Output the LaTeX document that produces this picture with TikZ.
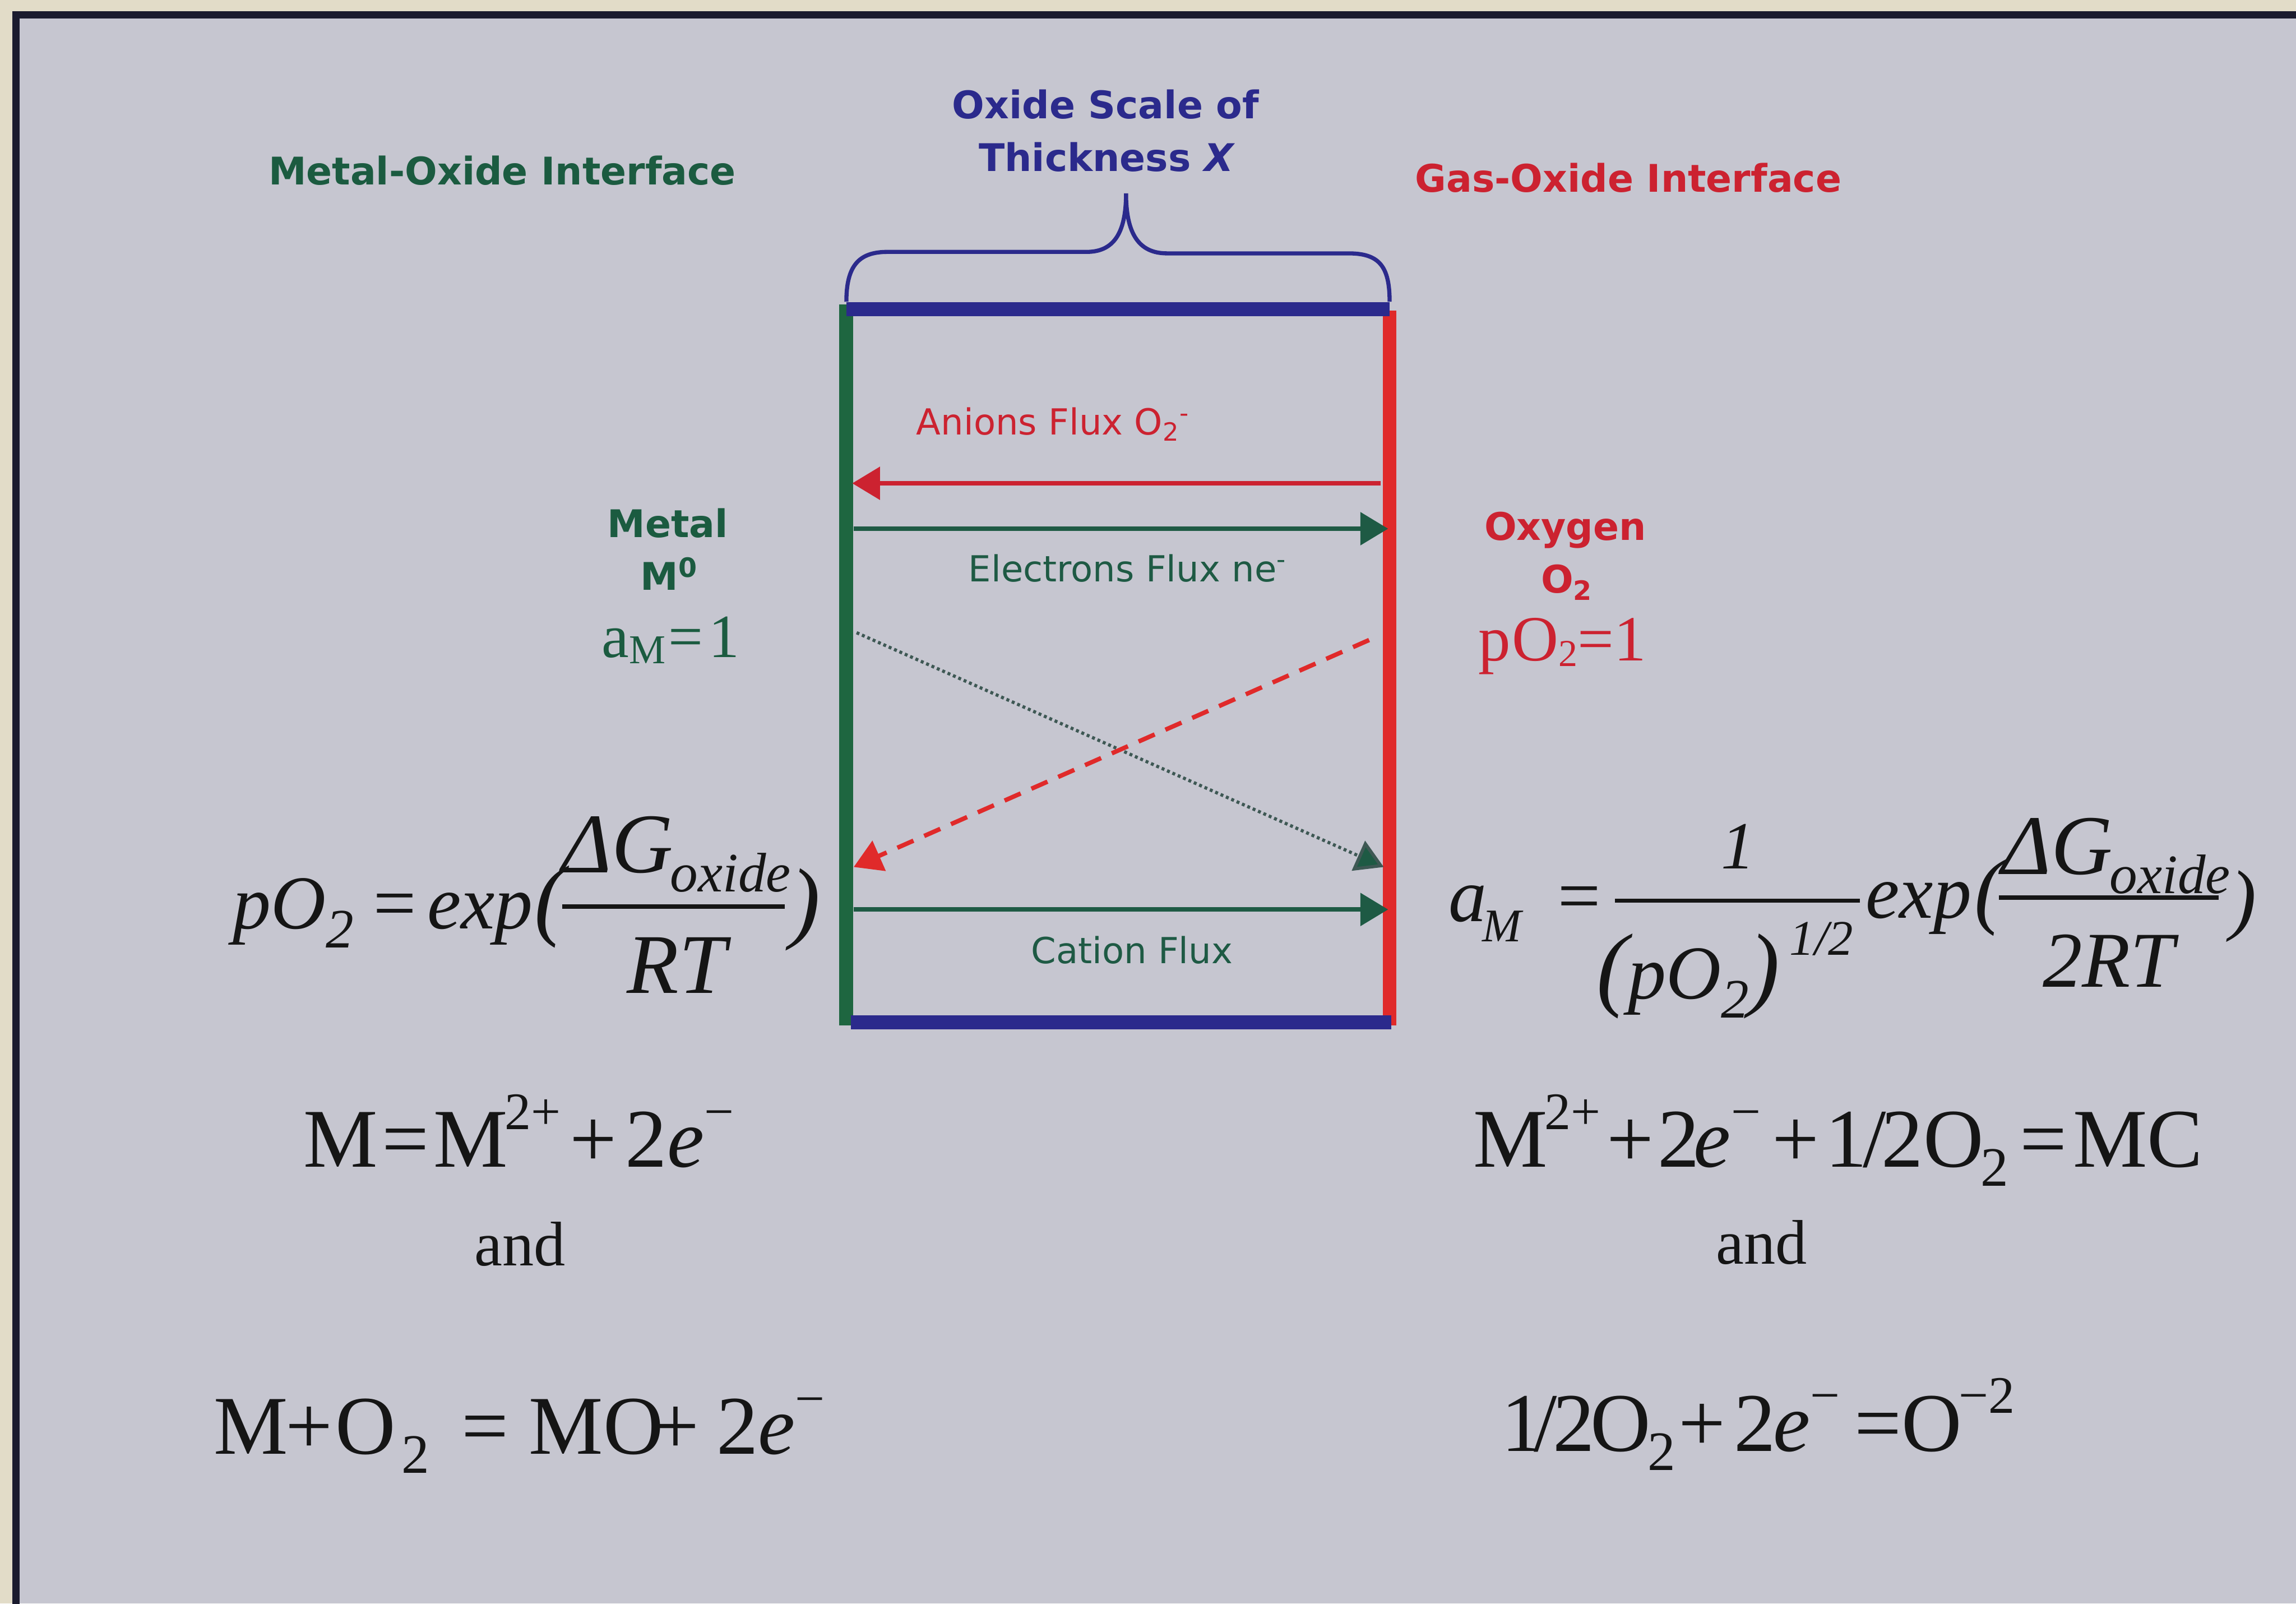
\documentclass[tikz,border=0pt]{standalone}
\usepackage{fontspec}
\setmainfont{Liberation Serif}
\newfontfamily\labelsans{DejaVu Sans}
\usepackage{tikz}
\usetikzlibrary{arrows.meta}
\definecolor{paper}{HTML}{C6C6D0}
\definecolor{mount}{HTML}{E2DCC8}
\definecolor{framecol}{HTML}{1B1B2E}
\definecolor{metalgreen}{HTML}{1B5B40}
\definecolor{bargreen}{HTML}{1E6640}
\definecolor{fluxgreen}{HTML}{1E5A44}
\definecolor{gasred}{HTML}{CC2230}
\definecolor{barred}{HTML}{E02A2A}
\definecolor{scaleblue}{HTML}{2B2A8C}
\definecolor{dotgray}{HTML}{3E5854}
\definecolor{inkblack}{HTML}{151515}
\newcommand{\upidx}[1]{\raisebox{26pt}{\fontsize{36}{36}\selectfont #1}}
\newcommand{\dnidx}[1]{\raisebox{-13pt}{\fontsize{38}{38}\selectfont #1}}

\begin{document}
\begin{tikzpicture}[x=1pt,y=-1pt,
  boldlbl/.style={font=\labelsans\bfseries\fontsize{26}{34}\selectfont, inner sep=0pt, anchor=base},
  fluxlbl/.style={font=\labelsans\fontsize{24.5}{29}\selectfont, inner sep=0pt, anchor=base},
  itq/.style={font=\itshape\fontsize{52}{60}\selectfont, text=inkblack, inner sep=0pt, anchor=base west},
  fracq/.style={font=\itshape\fontsize{58}{64}\selectfont, text=inkblack, inner sep=0pt, anchor=base},
  eq/.style={font=\fontsize{57}{64}\selectfont, text=inkblack, inner sep=0pt, anchor=base west},
  flux/.style={line width=3.2pt, -{Triangle[length=19pt,width=22pt]}},
  bar/.style={line width=9.5pt},
  fracbar/.style={inkblack, line width=3pt}]
  \useasboundingbox (0,0) rectangle (1568,1095);
  \fill[mount] (0,0) rectangle (1568,1095);
  \fill[paper] (11,10) rectangle (1568,1095);
  \draw[framecol, line width=5pt] (1575,10) -- (11,10) -- (11,1100);

  \node[boldlbl, text=metalgreen] (metoxlbl) at (343,126) {Metal-Oxide Interface};
  \node[boldlbl, text=gasred] (gasoxlbl) at (1112,131) {Gas-Oxide Interface};
  \node[boldlbl, text=scaleblue] (scalelbl) at (755,81) {Oxide Scale of};
  \node[boldlbl, text=scaleblue] (thicklbl) at (756,117) {Thickness \textit{X}};

  \coordinate (mtop) at (578,208);
  \coordinate (mbot) at (578,700);
  \coordinate (gtop) at (949,212);
  \coordinate (gbot) at (949,700);
  \draw[bar, bargreen] (mtop) -- (mbot);
  \draw[bar, barred] (gtop) -- (gbot);
  \draw[bar, scaleblue] (578,211) -- (949,211);
  \draw[bar, scaleblue] (581,698) -- (950,698);
  \draw[scaleblue, line width=2.8pt] (578,206) .. controls (578,182) and (586,172) .. (606,172) -- (742,172)
    .. controls (760,172) and (769,160) .. (769,132) .. controls (769,160) and (778,173) .. (797,173)
    -- (921,173) .. controls (942,173) and (949,182) .. (949,206);

  \coordinate (anionin) at (943,330);
  \coordinate (anionout) at (582,330);
  \coordinate (elecin) at (583,361);
  \coordinate (elecout) at (948,361);
  \coordinate (cationin) at (583,621);
  \coordinate (cationout) at (948,621);
  \coordinate (dotin) at (585,432);
  \coordinate (dotout) at (945,592);
  \coordinate (dashin) at (935,437);
  \coordinate (dashout) at (583,592);
  \draw[flux, gasred] (anionin) -- (anionout);
  \draw[flux, fluxgreen] (elecin) -- (elecout);
  \draw[flux, fluxgreen] (cationin) -- (cationout);
  \draw[dotgray, line width=2.2pt, dash pattern=on 2pt off 2pt, -{Triangle[length=19pt,width=22pt,fill=fluxgreen]}] (dotin) -- (dotout);
  \draw[barred, line width=3pt, dash pattern=on 12pt off 8pt, -{Triangle[length=19pt,width=22pt]}] (dashin) -- (dashout);

  \node[fluxlbl, text=gasred] (anionlbl) at (719,297) {Anions Flux O\textsubscript{2}\textsuperscript{-}};
  \node[fluxlbl, text=fluxgreen] (eleclbl) at (770,397) {Electrons Flux ne\textsuperscript{-}};
  \node[fluxlbl, text=fluxgreen] (cationlbl) at (773,658) {Cation Flux};

  \node[boldlbl, text=metalgreen] (metallbl) at (456,367) {Metal};
  \node[boldlbl, text=metalgreen] (metalM) at (457,403) {M\textsuperscript{0}};
  \node[inner sep=0pt, anchor=base, text=metalgreen, font=\fontsize{42}{48}\selectfont] (metalact) at (458,449)
    {a\raisebox{-4pt}{\fontsize{28}{28}\selectfont M}\kern2pt=\kern4pt 1};
  \node[boldlbl, text=gasred] (oxylbl) at (1069,369) {Oxygen};
  \node[boldlbl, text=gasred] (oxyO) at (1070,405) {O\textsubscript{2}};
  \node[inner sep=0pt, anchor=base, text=gasred, font=\fontsize{44}{50}\selectfont] (oxyact) at (1067,451)
    {p\kern1pt O\raisebox{-4pt}{\fontsize{26}{26}\selectfont 2}=1};

  \node[itq] (pOeq) at (159,634) {pO\dnidx{2}\kern10pt=\kern5pt exp\kern1pt{\fontsize{62}{62}\selectfont(}};
  \node[fracq] (numL) at (462,596) {ΔG\kern-2pt\dnidx{oxide}};
  \draw[fracbar] (384,619) -- (536,619);
  \node[fracq] (denL) at (462,678) {RT};
  \node[fracq, font=\itshape\fontsize{62}{64}\selectfont] (closeL) at (550,636) {)};

  \node[itq] (aMeq) at (989,629) {a\kern-3pt\raisebox{-14pt}{\fontsize{32}{32}\selectfont M}};
  \node[itq, anchor=base] (eqsign) at (1078,629) {=};
  \draw[fracbar] (1103,615) -- (1270,615);
  \node[fracq, font=\itshape\fontsize{46}{50}\selectfont] (oneR) at (1187,593) {1};
  \node[itq, anchor=base] (denR) at (1153,682) {{\fontsize{64}{64}\selectfont(}pO\dnidx{2}{\fontsize{64}{64}\selectfont)}};
  \node[itq, font=\itshape\fontsize{34}{36}\selectfont] (halfR) at (1222,652) {1/2};
  \node[itq] (expR) at (1274,627) {exp\kern2pt{\fontsize{58}{60}\selectfont(}};
  \node[fracq] (numR) at (1445,597) {ΔG\kern-2pt\dnidx{oxide}};
  \draw[fracbar] (1365,613) -- (1515,613);
  \node[fracq, font=\itshape\fontsize{54}{60}\selectfont] (denR2) at (1440,674) {2RT};
  \node[fracq, font=\itshape\fontsize{54}{60}\selectfont] (closeR) at (1532,632) {)};

  \node[eq] (ionL) at (207,797) {M\kern3pt=\kern3pt M\kern-2pt\upidx{2+}\kern6pt+\kern6pt 2\textit{e}\upidx{−}};
  \node[eq, anchor=base, font=\fontsize{43}{50}\selectfont] (andL) at (355,864) {and};
  \node[eq] (oxL) at (146,993) {M\kern-2pt+\kern2pt O\kern4pt\dnidx{2}\kern22pt=\kern14pt MO\kern-8pt+\kern12pt 2\textit{e}\upidx{−}};
  \node[eq] (ionR) at (1006,797) {M\kern-2pt\upidx{2+}\kern4pt+\kern3pt 2\kern-4pt\textit{e}\upidx{−}\kern8pt+\kern4pt 1\kern-3pt/\kern-3pt 2O\kern-2pt\dnidx{2}\kern8pt=\kern4pt MC};
  \node[eq, anchor=base, font=\fontsize{43}{50}\selectfont] (andR) at (1203,863) {and};
  \node[eq] (oxR) at (1025,991) {1\kern-6pt/\kern-3pt 2\kern-3pt O\kern-2pt\dnidx{2}\kern2pt+\kern6pt 2\kern-2pt\textit{e}\upidx{−}\kern10pt=O\kern-2pt\upidx{−2}};
\end{tikzpicture}
\end{document}
